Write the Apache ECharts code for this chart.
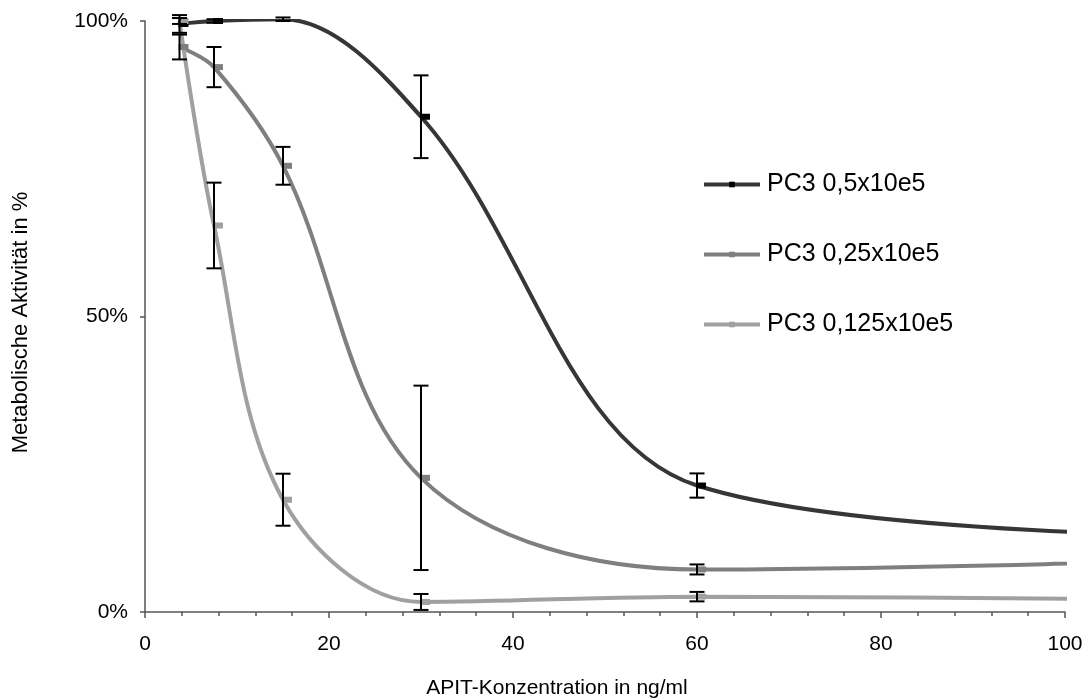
<!DOCTYPE html>
<html><head><meta charset="utf-8">
<script src="https://cdn.jsdelivr.net/npm/echarts@6/dist/echarts.min.js"></script>
<style>html,body{margin:0;padding:0;background:#fff}#c{width:1089px;height:700px}</style>
</head><body><div id="c"></div>
<script>
// Concentrations (ng/ml); the last one lies beyond the visible axis
const concentrations = [3.75, 7.5, 15, 30, 60, 120];
const seriesNames = ['PC3 0,5x10e5', 'PC3 0,25x10e5', 'PC3 0,125x10e5'];
// Metabolic activity in %
const activity05   = [99.5, 100, 100.3, 83.8, 21.4, 12.8];
const activity025  = [95.6, 92.2, 75.5, 22.7, 7.2, 9.0];
const activity0125 = [100, 65.4, 19.0, 1.7, 2.6, 2.0];
// Error bar half-widths (%) for the measured points
const error05   = [1.5, 0.3, 0.3, 7.0, 2.05];
const error025  = [2.1, 3.4, 3.2, 15.6, 0.85];
const error0125 = [0.5, 7.25, 4.4, 1.35, 0.8];
const yTickValues = [0, 50, 100];

const FONT = "'Liberation Sans', Arial, sans-serif";
const lineColors = ['#363636', '#7f7f7f', '#a0a0a0'];
const markerColors = ['#000000', '#7f7f7f', '#a0a0a0'];
const values = [activity05, activity025, activity0125];
const errors = [error05, error025, error0125];

const lineSeries = values.map((vals, s) => ({
  name: seriesNames[s],
  type: 'line',
  smooth: 0.35,
  data: vals.map((v, i) => i < errors[s].length
    ? [concentrations[i], v]
    : { value: [concentrations[i], v], symbol: 'none' }),
  symbol: 'rect',
  symbolSize: [10, 6],
  symbolOffset: [4, 0],
  showAllSymbol: true,
  lineStyle: { color: lineColors[s], width: 4 },
  itemStyle: { color: markerColors[s] },
  z: 2,
  animation: false
}));

const errorData = [];
errors.forEach((errs, s) => errs.forEach((e, i) => {
  errorData.push([concentrations[i], values[s][i] - e, values[s][i] + e]);
}));

const errorSeries = {
  type: 'custom',
  name: 'errors',
  data: errorData,
  encode: { x: 0, y: [1, 2] },
  z: 3,
  animation: false,
  renderItem(params, api) {
    const x = api.value(0);
    const top = api.coord([x, api.value(2)]);
    const bot = api.coord([x, api.value(1)]);
    const hw = 7.5;
    const st = { stroke: '#000', lineWidth: 2 };
    return { type: 'group', children: [
      { type: 'line', shape: { x1: top[0], y1: top[1], x2: bot[0], y2: bot[1] }, style: st },
      { type: 'line', shape: { x1: top[0] - hw, y1: top[1], x2: top[0] + hw, y2: top[1] }, style: st },
      { type: 'line', shape: { x1: bot[0] - hw, y1: bot[1], x2: bot[0] + hw, y2: bot[1] }, style: st }
    ]};
  }
};

const chart = echarts.init(document.getElementById('c'), null, { renderer: 'canvas' });
chart.setOption({
  backgroundColor: '#fff',
  animation: false,
  textStyle: { fontFamily: FONT },
  grid: { left: 145, right: 24, top: 21, bottom: 88, containLabel: false, outerBoundsMode: 'none' },
  legend: {
    data: seriesNames,
    orient: 'vertical',
    left: 697,
    top: 167,
    itemWidth: 56,
    itemHeight: 7,
    itemGap: 45,
    lineStyle: { width: 4 },
    textStyle: { fontFamily: FONT, fontSize: 25, color: '#000', padding: [0, 0, 0, 2] }
  },
  xAxis: {
    type: 'value',
    min: 0, max: 100, interval: 20,
    name: 'APIT-Konzentration in ng/ml',
    nameLocation: 'middle',
    nameGap: 66,
    nameTextStyle: { fontFamily: FONT, fontSize: 21, color: '#000', padding: [0, 96, 0, 0] },
    axisLine: { show: true, lineStyle: { color: '#555', width: 1.5 } },
    axisTick: { show: true, inside: false, length: 6, lineStyle: { color: '#555', width: 1.5 } },
    minorTick: { show: true, splitNumber: 5, length: 4, lineStyle: { color: '#555', width: 1.5 } },
    axisLabel: { fontFamily: FONT, fontSize: 21, color: '#000', margin: 22 },
    splitLine: { show: false }
  },
  yAxis: {
    type: 'value',
    min: 0, max: 100, interval: 50,
    name: 'Metabolische Aktivität in %',
    nameLocation: 'middle',
    nameGap: 113,
    nameTextStyle: { fontFamily: FONT, fontSize: 22, color: '#000', padding: [0, 12, 0, 0] },
    axisLine: { show: true, lineStyle: { color: '#555', width: 1.5 } },
    axisTick: { show: true, inside: false, length: 5, lineStyle: { color: '#555', width: 1.5 },
                customValues: yTickValues },
    axisLabel: { fontFamily: FONT, fontSize: 21, color: '#000', margin: 17,
                 customValues: yTickValues, formatter: v => v + '%' },
    splitLine: { show: false }
  },
  series: [...lineSeries, errorSeries]
});
</script>
</body></html>
